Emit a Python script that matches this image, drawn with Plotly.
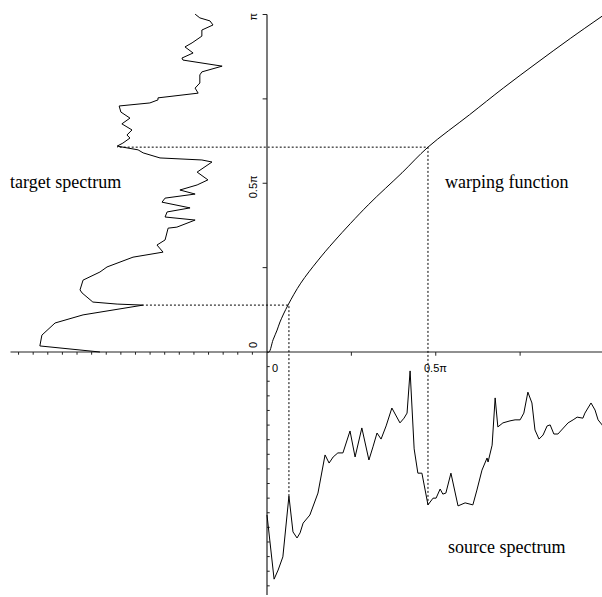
import plotly.graph_objects as go

# ---- data (frequencies in units of pi) ----
warp_in = [0, 0.006, 0.018, 0.030, 0.0385, 0.0622, 0.10, 0.15, 0.20, 0.30, 0.40, 0.477, 0.60, 0.70, 0.80, 0.90, 1.0]
warp_out = [0, 0.0, 0.036, 0.065, 0.089, 0.139, 0.204, 0.270, 0.329, 0.436, 0.531, 0.607, 0.703, 0.782, 0.857, 0.930, 1.0]

source_freq = [0, 0.021, 0.033, 0.047, 0.065, 0.077, 0.089, 0.098, 0.107, 0.127, 0.151, 0.172, 0.184, 0.196,
               0.210, 0.225, 0.246, 0.261, 0.281, 0.302, 0.314, 0.326, 0.338, 0.353, 0.370, 0.394, 0.406,
               0.415, 0.424, 0.436, 0.447, 0.459, 0.477, 0.492, 0.501, 0.513, 0.521, 0.530, 0.545, 0.557,
               0.566, 0.587, 0.610, 0.622, 0.637, 0.652, 0.655, 0.667, 0.676, 0.684, 0.699, 0.720, 0.735,
               0.750, 0.761, 0.773, 0.785, 0.794, 0.806, 0.818, 0.830, 0.839, 0.850, 0.862, 0.877, 0.892,
               0.907, 0.919, 0.936, 0.942, 0.960, 0.972, 0.981, 0.993, 1.0]
source_level = [-0.483, -0.673, -0.646, -0.607, -0.427, -0.533, -0.551, -0.536, -0.507, -0.483, -0.418, -0.305,
                -0.329, -0.311, -0.299, -0.299, -0.234, -0.311, -0.225, -0.320, -0.281, -0.240, -0.258, -0.219,
                -0.166, -0.210, -0.196, -0.181, -0.056, -0.287, -0.359, -0.359, -0.453, -0.433, -0.433, -0.406,
                -0.421, -0.418, -0.359, -0.409, -0.456, -0.447, -0.453, -0.409, -0.350, -0.314, -0.326, -0.276,
                -0.136, -0.222, -0.210, -0.204, -0.201, -0.201, -0.181, -0.119, -0.151, -0.231, -0.258, -0.246,
                -0.219, -0.216, -0.243, -0.243, -0.225, -0.210, -0.201, -0.193, -0.196, -0.181, -0.151, -0.172,
                -0.201, -0.216, -0.231]

target_freq = [0, 0.018, 0.050, 0.086, 0.110, 0.124, 0.139, 0.142, 0.148, 0.175, 0.184, 0.213, 0.237, 0.252,
               0.281, 0.296, 0.317, 0.332, 0.367, 0.370, 0.391, 0.400, 0.415, 0.427, 0.444, 0.456, 0.468,
               0.480, 0.495, 0.510, 0.533, 0.563, 0.569, 0.575, 0.590, 0.599, 0.610, 0.619, 0.634, 0.643,
               0.658, 0.676, 0.693, 0.711, 0.729, 0.738, 0.747, 0.753, 0.767, 0.782, 0.797, 0.821, 0.830,
               0.847, 0.856, 0.865, 0.871, 0.886, 0.904, 0.916, 0.936, 0.954, 0.969, 0.981, 0.990, 1.001]
target_level = [0.495, 0.673, 0.667, 0.628, 0.545, 0.465, 0.367, 0.444, 0.516, 0.548, 0.554, 0.545, 0.495, 0.474,
                0.397, 0.308, 0.326, 0.302, 0.293, 0.267, 0.213, 0.302, 0.296, 0.228, 0.311, 0.302, 0.213,
                0.258, 0.207, 0.175, 0.207, 0.163, 0.193, 0.317, 0.367, 0.382, 0.444, 0.427, 0.406, 0.415,
                0.400, 0.430, 0.406, 0.433, 0.438, 0.347, 0.323, 0.323, 0.204, 0.213, 0.199, 0.199, 0.193,
                0.133, 0.199, 0.249, 0.252, 0.219, 0.243, 0.222, 0.193, 0.193, 0.160, 0.169, 0.199, 0.213]

# mapped frequencies (source -> warped -> target)
map_src = [0.065, 0.477]
map_dst = [0.139, 0.607]
map_src_level = [-0.427, -0.453]
map_tgt_level = [0.367, 0.444]

tick_vals = [0, 0.5, 1.0]
tick_text = ["0", "0.5\u03c0", "\u03c0"]
major_ticks = [0.25, 0.5, 0.75]
minor_step = 0.0433
n_minor_x = 17
n_minor_y = 16

fig = go.Figure()
line = dict(color="black", width=1)

# axes
fig.add_trace(go.Scatter(x=[-0.76, 1.0], y=[0, 0], mode="lines",
                         line=dict(color="#222", width=1.2), hoverinfo="skip"))
fig.add_trace(go.Scatter(x=[0, 0], y=[-0.72, 1.0], mode="lines",
                         line=dict(color="#222", width=1.2), hoverinfo="skip"))

# tick marks
tx, ty = [], []
for v in major_ticks:
    tx += [v, v, None]; ty += [0, -0.011, None]
    tx += [0, -0.013, None]; ty += [v, v, None]
tx += [0, -0.013, None]; ty += [1.0, 1.0, None]
for k in range(1, n_minor_x + 1):
    tx += [-k * minor_step, -k * minor_step, None]; ty += [0, -0.008, None]
for k in range(1, n_minor_y + 1):
    tx += [0, 0.008, None]; ty += [-k * minor_step, -k * minor_step, None]
fig.add_trace(go.Scatter(x=tx, y=ty, mode="lines", line=dict(color="#222", width=1), hoverinfo="skip"))

# curves
fig.add_trace(go.Scatter(x=warp_in, y=warp_out, mode="lines", line=line, line_shape="spline"))
fig.add_trace(go.Scatter(x=source_freq, y=source_level, mode="lines", line=line))
fig.add_trace(go.Scatter(x=[-v for v in target_level], y=target_freq, mode="lines", line=line))

# dashed mapping lines
dx, dy = [], []
for s, d, sl, tl in zip(map_src, map_dst, map_src_level, map_tgt_level):
    dx += [s, s, -tl, None]
    dy += [sl, d, d, None]
fig.add_trace(go.Scatter(x=dx, y=dy, mode="lines",
                         line=dict(color="black", width=1, dash="2px,2px")))

# tick labels
lab_font = dict(family="Liberation Sans", size=11, color="black")
for v, t in zip(tick_vals, tick_text):
    fig.add_annotation(x=v, y=0, text=t, showarrow=False, font=lab_font,
                       xanchor="center", yanchor="top", yshift=-8, xshift=(8 if v == 0 else 0))
    fig.add_annotation(x=0, y=v, text=t, showarrow=False, font=lab_font, textangle=-90,
                       xanchor="right", yanchor="middle", xshift=-6, yshift=(7 if v == 0 else (-4 if v == 0.5 else -2)))

txt_font = dict(family="Liberation Serif", size=18, color="black")
fig.add_annotation(x=-0.767, y=0.504, text="target spectrum", showarrow=False, font=txt_font, xanchor="left")
fig.add_annotation(x=0.521, y=0.504, text="warping function", showarrow=False, font=txt_font, xanchor="left")
fig.add_annotation(x=0.530, y=-0.578, text="source spectrum", showarrow=False, font=txt_font, xanchor="left")

fig.update_layout(
    width=602, height=597, margin=dict(l=0, r=0, t=0, b=0),
    paper_bgcolor="white", plot_bgcolor="white", showlegend=False,
    xaxis=dict(visible=False, range=[-0.7911, 0.9926], fixedrange=True),
    yaxis=dict(visible=False, range=[-0.7259, 1.0430], fixedrange=True),
)
fig.write_html("out.html", config={"displayModeBar": False},
               post_script="document.body.style.margin='0';document.body.style.overflow='hidden';")
